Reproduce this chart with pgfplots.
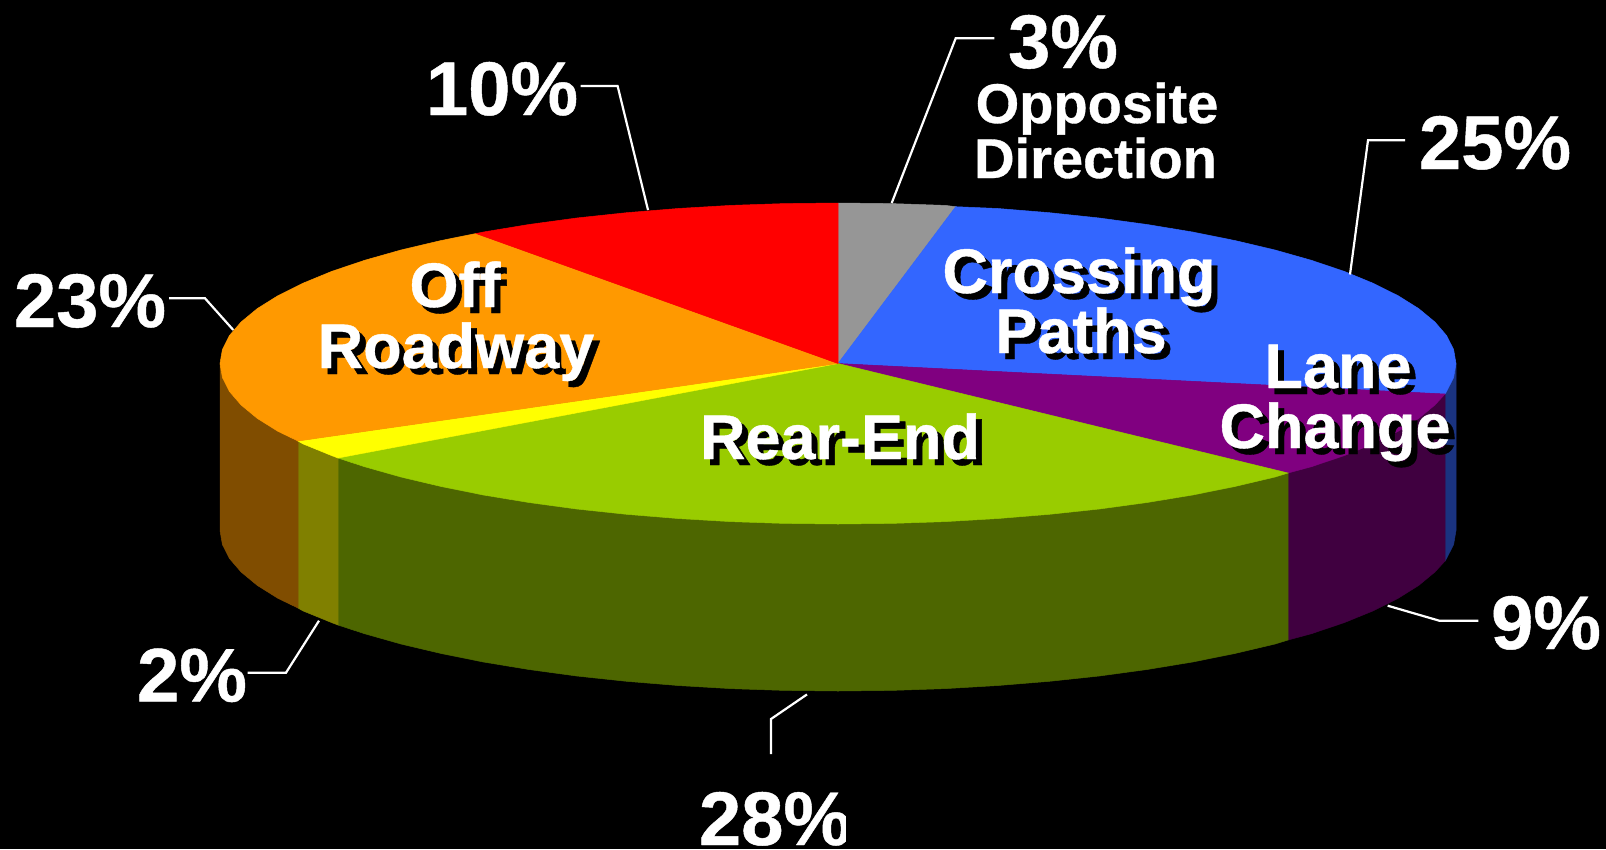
\documentclass[border=0pt]{standalone}
\usepackage{fontspec}
\setmainfont[BoldFeatures={FakeBold=0.6}]{Liberation Sans}
\usepackage{pgfplots}
\pgfplotsset{compat=1.18}
\definecolor{cBlue}{HTML}{3366FF}\definecolor{cBlueD}{HTML}{1A3380}
\definecolor{cPurp}{HTML}{800080}\definecolor{cPurpD}{HTML}{400040}
\definecolor{cGreen}{HTML}{99CC00}\definecolor{cGreenD}{HTML}{4D6600}
\definecolor{cYel}{HTML}{FFFF00}\definecolor{cYelD}{HTML}{808000}
\definecolor{cOra}{HTML}{FF9900}\definecolor{cOraD}{HTML}{804D00}
\definecolor{cGray}{HTML}{969696}
\newcommand{\biglab}[3]{\node[anchor=base,inner sep=0pt,text=white,font=\fontsize{76}{76}\selectfont\bfseries] at (axis cs:#1,#2) {#3};}
\newcommand{\midlab}[3]{\node[anchor=base,inner sep=0pt,text=white,font=\fontsize{56}{56}\selectfont\bfseries] at (axis cs:#1,#2) {#3};}
\newcommand{\shlab}[3]{\node[anchor=base,inner sep=0pt,text=black,font=\fontsize{63}{63}\selectfont\bfseries] at (axis cs:#1+6,#2+6) {#3};\node[anchor=base,inner sep=0pt,text=white,font=\fontsize{63}{63}\selectfont\bfseries] at (axis cs:#1,#2) {#3};}
\begin{document}
\begin{tikzpicture}
\begin{axis}[hide axis,scale only axis,width=1606pt,height=849pt,xmin=0,xmax=1606,ymin=0,ymax=849,y dir=reverse,clip=false]
% background
\addplot[fill=black,draw=none] coordinates {(0,0)(1606,0)(1606,849)(0,849)} --cycle;
% sides
\addplot[fill=cBlueD,draw=cBlueD,line width=.5pt] coordinates {(1456,363.5)(1453.6,377.5)(1446.6,391.4)(1445,394)(1445,561)(1446.6,558.4)(1453.6,544.5)(1456,530.5)} --cycle;
\addplot[fill=cPurpD,draw=cPurpD,line width=.5pt] coordinates {(1445,394)(1434.9,405)(1418.7,418.4)(1398.1,431.3)(1373.2,443.8)(1344.3,455.6)(1311.4,466.7)(1288,473)(1288,640)(1311.4,633.7)(1344.3,622.6)(1373.2,610.8)(1398.1,598.3)(1418.7,585.4)(1434.9,572)(1445,561)} --cycle;
\addplot[fill=cGreenD,draw=cGreenD,line width=.5pt] coordinates {(1288,473)(1275,477)(1235.2,486.4)(1192.5,495)(1147,502.5)(1099.2,509)(1049.4,514.3)(997.9,518.5)(945.3,521.6)(891.9,523.4)(838,524)(784.1,523.4)(730.7,521.6)(678.1,518.5)(626.6,514.3)(576.8,509)(529,502.5)(483.5,495)(440.8,486.4)(401,477)(364.6,466.7)(338,458)(338,625)(364.6,633.7)(401,644)(440.8,653.4)(483.5,662)(529,669.5)(576.8,676)(626.6,681.3)(678.1,685.5)(730.7,688.6)(784.1,690.4)(838,691)(891.9,690.4)(945.3,688.6)(997.9,685.5)(1049.4,681.3)(1099.2,676)(1147,669.5)(1192.5,662)(1235.2,653.4)(1275,644)(1288,640)} --cycle;
\addplot[fill=cYelD,draw=cYelD,line width=.5pt] coordinates {(338,458)(331.7,455.6)(302.8,443.8)(298,441)(298,608)(302.8,610.8)(331.7,622.6)(338,625)} --cycle;
\addplot[fill=cOraD,draw=cOraD,line width=.5pt] coordinates {(298,441)(277.9,431.3)(257.3,418.4)(241.1,405)(229.4,391.4)(222.4,377.5)(220,363.5)(220,530.5)(222.4,544.5)(229.4,558.4)(241.1,572)(257.3,585.4)(277.9,598.3)(298,608)} --cycle;
% top face
\addplot[fill=cGray,draw=cGray,line width=.5pt] coordinates {(838,363.5)(838,203)(891.9,203.6)(945.3,205.4)(955.7,206.7)} --cycle;
\addplot[fill=cBlue,draw=cBlue,line width=.5pt] coordinates {(838,363.5)(955.7,206.7)(997.9,208.5)(1049.4,212.7)(1099.2,218)(1147,224.5)(1192.5,232)(1235.2,240.6)(1275,250)(1311.4,260.3)(1344.3,271.4)(1373.2,283.3)(1398.1,295.7)(1418.7,308.6)(1434.9,322)(1446.6,335.6)(1453.6,349.5)(1456,363.5)(1453.6,377.5)(1446.6,391.4)(1445,394)} --cycle;
\addplot[fill=cPurp,draw=cPurp,line width=.5pt] coordinates {(838,363.5)(1445,394)(1434.9,405)(1418.7,418.4)(1398.1,431.3)(1373.2,443.8)(1344.3,455.6)(1311.4,466.7)(1288,473)} --cycle;
\addplot[fill=cGreen,draw=cGreen,line width=.5pt] coordinates {(838,363.5)(1288,473)(1275,477)(1235.2,486.4)(1192.5,495)(1147,502.5)(1099.2,509)(1049.4,514.3)(997.9,518.5)(945.3,521.6)(891.9,523.4)(838,524)(784.1,523.4)(730.7,521.6)(678.1,518.5)(626.6,514.3)(576.8,509)(529,502.5)(483.5,495)(440.8,486.4)(401,477)(364.6,466.7)(338,458)} --cycle;
\addplot[fill=cYel,draw=cYel,line width=.5pt] coordinates {(838,363.5)(338,458)(331.7,455.6)(302.8,443.8)(298,441)} --cycle;
\addplot[fill=cOra,draw=cOra,line width=.5pt] coordinates {(838,363.5)(298,441)(277.9,431.3)(257.3,418.4)(241.1,405)(229.4,391.4)(222.4,377.5)(220,363.5)(222.4,349.5)(229.4,335.6)(241.1,322)(257.3,308.6)(277.9,295.7)(302.8,283.3)(331.7,271.4)(364.6,260.3)(401,250)(440.8,240.6)(476,233.5)} --cycle;
\addplot[fill=red,draw=red,line width=.5pt] coordinates {(838,363.5)(476,233.5)(483.5,232)(529,224.5)(576.8,218)(626.6,212.7)(678.1,208.5)(730.7,205.4)(784.1,203.6)(838,203)} --cycle;
% leaders
\addplot[white,line width=2.2pt] coordinates {(891.7,203)(955.7,38.3)(994.3,38.3)};
\addplot[white,line width=2.2pt] coordinates {(648,210)(617.6,86)(580.7,86)};
\addplot[white,line width=2.2pt] coordinates {(1350,274.5)(1368,140.3)(1405,140.3)};
\addplot[white,line width=2.2pt] coordinates {(233.3,330)(205,298.3)(169,298.3)};
\addplot[white,line width=2.2pt] coordinates {(1387.7,605.7)(1439.3,620.7)(1478.3,620.7)};
\addplot[white,line width=2.2pt] coordinates {(319,620.7)(286,672.7)(247.7,672.7)};
\addplot[white,line width=2.2pt] coordinates {(807,694.4)(771,719)(771,754)};
% percent labels
\biglab{1063}{68}{3\%}
\biglab{502}{115}{10\%}
\biglab{1495}{169}{25\%}
\biglab{90}{327}{23\%}
\biglab{1546}{649}{9\%}
\biglab{192}{701.5}{2\%}
\node[anchor=base,inner sep=0pt,text=white,font=\fontsize{76}{60}\selectfont\bfseries] at (axis cs:775,845) {\smash{28\%}};
\midlab{1097}{123}{Opposite}
\midlab{1095.5}{178}{Direction}
% names with shadow
\shlab{1079}{293}{Crossing}
\shlab{1081}{353}{Paths}
\shlab{1338}{388}{Lane}
\shlab{1335}{448}{Change}
\shlab{455}{307}{Off}
\shlab{456}{368}{Roadway}
\shlab{840}{459}{Rear-End}
% the reference cuts the last label at its right side
\addplot[fill=black,draw=none] coordinates {(846,780)(870,780)(870,849)(846,849)} --cycle;
\end{axis}
\end{tikzpicture}
\end{document}
